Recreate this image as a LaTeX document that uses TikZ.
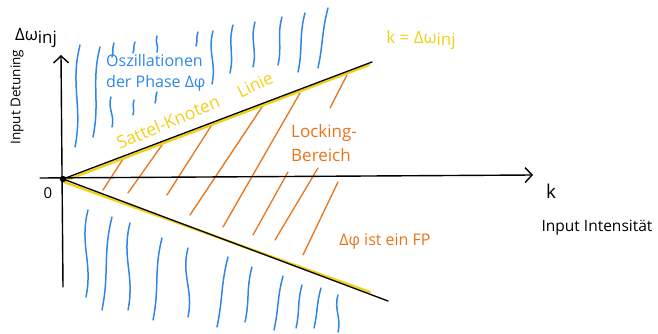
\documentclass[tikz,border=0pt]{standalone}
\usepackage{fontspec}
\setmainfont{Open Sans}
\usetikzlibrary{arrows.meta}
\definecolor{hblue}{RGB}{45,135,235}
\definecolor{horange}{RGB}{232,116,26}
\definecolor{hyellow}{RGB}{240,208,24}
\newcommand{\wvln}[4]{%
  \draw[wave] (#1,#2) .. controls +({-0.09*(#4-#2)-1},{0.4*(#4-#2)}) and +({0.07*(#4-#2)+1},{-0.4*(#4-#2)}) .. (#3,#4);}
\newcommand{\hatchln}[4]{\draw[hatch] (#1,#2) -- (#3,#4);}
\begin{document}
\begin{tikzpicture}[x=1pt,y=-1pt,
  axisline/.style={line width=1.4pt, black, line cap=round, -{Straight Barb[length=7pt,width=15pt,line width=1.4pt]}},
  bline/.style={line width=1.3pt, black, line cap=round},
  yline/.style={line width=2.4pt, hyellow, line cap=round},
  wave/.style={line width=1.5pt, hblue, line cap=round},
  hatch/.style={line width=1.3pt, horange, line cap=round},
  lbl/.style={inner sep=0pt, font=\fontsize{14}{16}\selectfont}]
\useasboundingbox (0,0) rectangle (658,334);

% axes
\coordinate (ybot) at (63,287);
\coordinate (ytop) at (61,55);
\coordinate (xleft) at (40,178);
\coordinate (xright) at (533,175);
\coordinate (O) at (63,179);
\coordinate (upEnd) at (372,62);
\coordinate (upY) at (369,65);
\coordinate (upYs) at (64,181);
\coordinate (loEnd) at (388,301);
\coordinate (loY) at (370,292);
\coordinate (loYs) at (64,182);

% blue waves above
\wvln{80}{45}{75}{147}
\wvln{100}{47}{93}{137}
\wvln{114}{43}{112}{57}
\wvln{111}{97}{112}{127}
\wvln{135}{42}{133}{53}
\wvln{134}{100}{133}{115}
\wvln{157}{36}{157}{52}
\wvln{157}{92}{155}{103}
\wvln{198}{32}{196}{46}
\wvln{213}{31}{212}{84}
\wvln{233}{25}{230}{73}
\wvln{255}{22}{253}{67}
\wvln{282}{17}{278}{65}
\wvln{305}{13}{298}{72}
\wvln{328}{8}{318}{68}
% blue waves below
\wvln{88}{210}{86}{297}
\wvln{112}{217}{102}{310}
\wvln{130}{223}{128}{310}
\wvln{162}{238}{153}{320}
\wvln{188}{248}{188}{317}
\wvln{228}{257}{217}{327}
\wvln{252}{267}{245}{322}
\wvln{283}{276}{274}{330}
\wvln{302}{285}{296}{328}
\wvln{321}{288}{314}{328}
\wvln{338}{295}{338}{332}

% orange hatch
\hatchln{103}{190}{123}{159}
\hatchln{128}{193}{162}{145}
\hatchln{167}{195}{213}{123}
\hatchln{190}{215}{262}{107}
\hatchln{223}{227}{300}{93}
\hatchln{253}{235}{288}{172}
\hatchln{275}{240}{318}{168}
\hatchln{303}{255}{338}{182}
\hatchln{330}{108}{347}{75}

% saddle-node lines
\draw[yline] (upYs) -- (upY);
\draw[yline] (loYs) -- (loY);
\draw[bline] (O) -- (upEnd);
\draw[bline] (O) -- (loEnd);

\draw[axisline] (ybot) -- (ytop);
\draw[axisline] (xleft) -- (xright);
\fill[black] (O) circle (3.2pt);

% labels
\node[lbl, font=\fontsize{17}{19}\selectfont] (dw) at (36,38) {Δω\raisebox{-0.15em}{inj}};
\node[lbl, rotate=90, font=\fontsize{13.5}{15}\selectfont] (det) at (17,97) {Input Detuning};
\node[lbl, text=hblue, align=left, anchor=north west, font=\fontsize{16}{21}\selectfont] (osz) at (106,54) {Oszillationen\\der Phase Δφ};
\node[lbl, text=hyellow, rotate=23, font=\fontsize{17.5}{19}\selectfont] (sk) at (168,122) {Sattel-Knoten};
\node[lbl, text=hyellow, rotate=26, font=\fontsize{17}{19}\selectfont] (lin) at (255,85) {Linie};
\node[lbl, text=hyellow, font=\fontsize{17}{19}\selectfont] (keq) at (421,40) {k = Δω\raisebox{-0.15em}{inj}};
\node[lbl, text=horange, align=left, anchor=north west, font=\fontsize{17}{24}\selectfont] (lock) at (291,124) {Locking-\\Bereich};
\node[lbl, font=\fontsize{19}{21}\selectfont] (k) at (551,191) {k};
\node[lbl, font=\fontsize{15.5}{17}\selectfont] (inten) at (597,228) {Input Intensität};
\node[lbl, text=horange, font=\fontsize{16}{18}\selectfont] (fp) at (385,242) {Δφ ist ein FP};
\node[lbl, font=\fontsize{15}{17}\selectfont] (zero) at (48,193) {0};
\end{tikzpicture}
\end{document}
